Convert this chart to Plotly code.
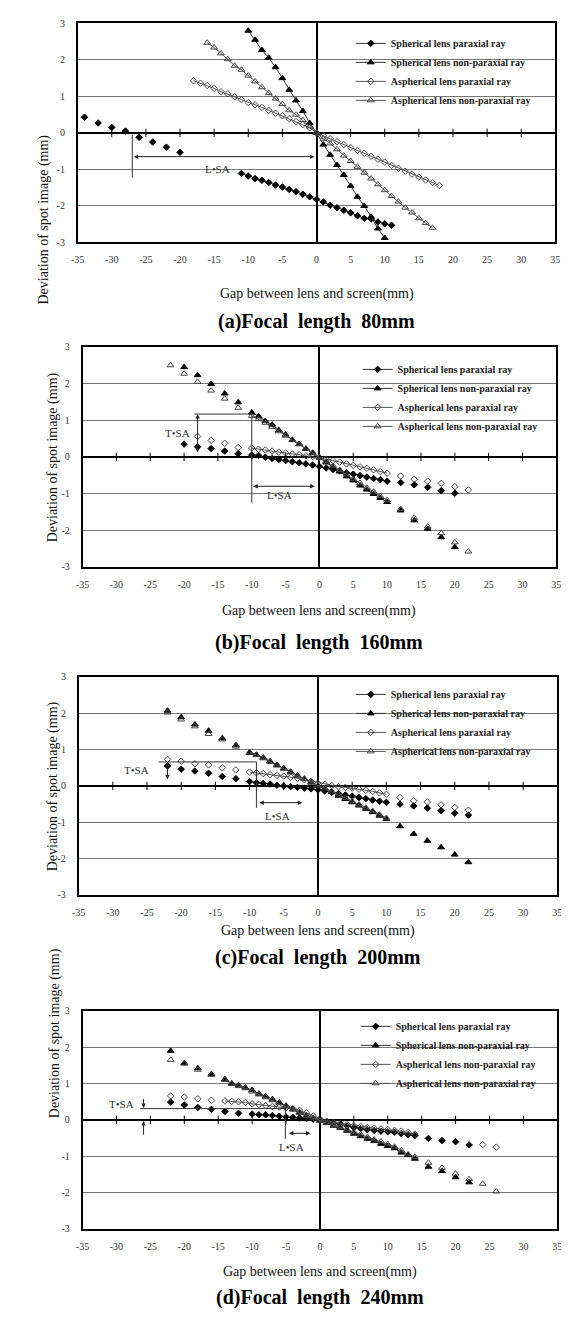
import plotly.graph_objects as go

# ---------------- axis ticks ----------------
x_tick_vals = [-35, -30, -25, -20, -15, -10, -5, 0, 5, 10, 15, 20, 25, 30, 35]
x_tick_text = ["-35", "-30", "-25", "-20", "-15", "-10", "-5", "0", "5", "10", "15", "20", "25", "30", "35"]
y_tick_vals = [-3, -2, -1, 0, 1, 2, 3]
y_tick_text = ["-3", "-2", "-1", "0", "1", "2", "3"]

x_title = "Gap between lens and screen(mm)"
y_title = "Deviation of spot image (mm)"
captions = ["(a)Focal\u00a0 length\u00a0 80mm", "(b)Focal\u00a0 length\u00a0 160mm",
            "(c)Focal\u00a0 length\u00a0 200mm", "(d)Focal\u00a0 length\u00a0 240mm"]

names_abc = ["Spherical lens paraxial ray", "Spherical lens non-paraxial ray",
             "Aspherical lens paraxial ray", "Aspherical lens non-paraxial ray"]
names_d = ["Spherical lens paraxial ray", "Spherical lens non-paraxial ray",
           "Aspherical lens non-paraxial ray", "Aspherical lens non-paraxial ray"]

# ---------------- (a) focal length 80 mm ----------------
a_sp_par_x = list(range(-11, 12))
a_sp_par_y = [-1.11, -1.18, -1.25, -1.30, -1.36, -1.43, -1.48, -1.55, -1.61, -1.68, -1.75, -1.82,
              -1.89, -1.98, -2.05, -2.12, -2.19, -2.27, -2.34, -2.36, -2.44, -2.49, -2.53]
a_sp_par_xs = [-34, -32, -30, -28, -26, -24, -22, -20]
a_sp_par_ys = [0.43, 0.27, 0.15, 0.05, -0.12, -0.25, -0.39, -0.53]
a_sp_npar_x = list(range(-10, 11))
a_sp_npar_y = [2.80, 2.55, 2.27, 2.06, 1.80, 1.50, 1.18, 0.89, 0.60, 0.27, 0.0,
               -0.32, -0.60, -0.88, -1.15, -1.45, -1.75, -2.00, -2.30, -2.62, -2.88]
a_as_par_x = list(range(-18, 19))
a_as_par_y = [1.43, 1.36, 1.30, 1.22, 1.13, 1.07, 0.99, 0.91, 0.83, 0.77, 0.70, 0.62, 0.54, 0.47,
              0.39, 0.31, 0.23, 0.14, 0.0, -0.08, -0.16, -0.24, -0.32, -0.40, -0.48, -0.56, -0.64,
              -0.72, -0.80, -0.89, -0.97, -1.05, -1.13, -1.21, -1.29, -1.36, -1.44]
a_as_npar_x = list(range(-16, 18))
a_as_npar_y = [2.47, 2.34, 2.18, 2.02, 1.84, 1.73, 1.57, 1.41, 1.25, 1.09, 0.94, 0.79, 0.62, 0.50,
               0.35, 0.18, 0.0, -0.16, -0.29, -0.45, -0.62, -0.77, -0.93, -1.09, -1.25, -1.41,
               -1.57, -1.73, -1.88, -2.05, -2.18, -2.34, -2.47, -2.60]

# ---------------- (b) focal length 160 mm ----------------
b_dense_x = list(range(-10, 11))
b_sp_par_y = [0.05, 0.04, -0.01, -0.04, -0.07, -0.10, -0.13, -0.16, -0.19, -0.22, -0.26,
              -0.30, -0.34, -0.38, -0.43, -0.47, -0.51, -0.55, -0.59, -0.62, -0.66]
b_sp_par_xs = [-20, -18, -16, -14, -12, 12, 14, 16, 18, 20]
b_sp_par_ys = [0.35, 0.28, 0.23, 0.16, 0.09, -0.70, -0.76, -0.83, -0.92, -0.99]
b_sp_npar_y = [1.21, 1.11, 0.98, 0.88, 0.73, 0.61, 0.46, 0.35, 0.22, 0.10, -0.02,
               -0.15, -0.28, -0.40, -0.53, -0.64, -0.78, -0.89, -1.01, -1.12, -1.23]
b_sp_npar_xs = [-20, -18, -16, -14, -12, 12, 14, 16, 18, 20]
b_sp_npar_ys = [2.45, 2.23, 1.99, 1.73, 1.49, -1.46, -1.73, -1.96, -2.19, -2.46]
b_as_par_y = [0.24, 0.21, 0.19, 0.16, 0.13, 0.11, 0.08, 0.06, 0.03, 0.01, -0.02,
              -0.06, -0.10, -0.14, -0.19, -0.23, -0.27, -0.31, -0.35, -0.40, -0.44]
b_as_par_xs = [-18, -16, -14, -12, 12, 14, 16, 18, 20, 22]
b_as_par_ys = [0.56, 0.45, 0.37, 0.26, -0.52, -0.61, -0.66, -0.72, -0.81, -0.90]
b_as_npar_y = [1.12, 1.03, 0.93, 0.82, 0.70, 0.58, 0.47, 0.35, 0.23, 0.12, 0.0,
               -0.12, -0.24, -0.36, -0.48, -0.60, -0.71, -0.84, -0.95, -1.07, -1.18]
b_as_npar_xs = [-22, -20, -18, -16, -14, -12, 12, 14, 16, 18, 20, 22]
b_as_npar_ys = [2.50, 2.27, 2.05, 1.81, 1.59, 1.34, -1.42, -1.66, -1.90, -2.08, -2.33, -2.58]

# ---------------- (c) focal length 200 mm ----------------
c_dense_x = list(range(-10, 11))
c_sp_par_y = [0.12, 0.09, 0.07, 0.05, 0.02, 0.0, -0.02, -0.04, -0.06, -0.08, -0.11,
              -0.14, -0.18, -0.21, -0.25, -0.28, -0.32, -0.35, -0.39, -0.42, -0.45]
c_sp_par_xs = [-22, -20, -18, -16, -14, -12, 12, 14, 16, 18, 20, 22]
c_sp_par_ys = [0.55, 0.46, 0.41, 0.35, 0.26, 0.20, -0.50, -0.55, -0.61, -0.68, -0.75, -0.80]
c_sp_npar_y = [0.91, 0.85, 0.78, 0.68, 0.58, 0.49, 0.39, 0.29, 0.20, 0.10, 0.0,
               -0.08, -0.17, -0.27, -0.36, -0.45, -0.54, -0.63, -0.72, -0.82, -0.91]
c_sp_npar_xs = [-22, -20, -18, -16, -14, -12, 12, 14, 16, 18, 20, 22]
c_sp_npar_ys = [2.07, 1.89, 1.69, 1.52, 1.31, 1.12, -1.11, -1.32, -1.51, -1.69, -1.89, -2.10]
c_as_par_y = [0.38, 0.36, 0.34, 0.31, 0.29, 0.27, 0.24, 0.21, 0.17, 0.13, 0.08,
              0.04, 0.01, -0.02, -0.04, -0.06, -0.09, -0.12, -0.15, -0.19, -0.23]
c_as_par_xs = [-22, -20, -18, -16, -14, -12, 12, 14, 16, 18, 20, 22]
c_as_par_ys = [0.73, 0.68, 0.61, 0.58, 0.50, 0.44, -0.32, -0.41, -0.44, -0.52, -0.59, -0.67]
c_as_npar_y = [0.93, 0.86, 0.76, 0.66, 0.56, 0.47, 0.37, 0.28, 0.19, 0.09, 0.01,
               -0.07, -0.15, -0.24, -0.33, -0.42, -0.51, -0.60, -0.69, -0.79, -0.88]
c_as_npar_xs = [-22, -20, -18, -16, -14, -12]
c_as_npar_ys = [2.02, 1.83, 1.64, 1.43, 1.28, 1.08]

# ---------------- (d) focal length 240 mm ----------------
d_sp_par_x = list(range(-10, 15))
d_sp_par_y = [0.16, 0.14, 0.14, 0.12, 0.10, 0.08, 0.07, 0.05, 0.04, 0.02, 0.0, -0.05, -0.09,
              -0.13, -0.17, -0.21, -0.24, -0.27, -0.29, -0.31, -0.33, -0.34, -0.38, -0.41, -0.43]
d_sp_par_xs = [-22, -20, -18, -16, -14, -12, 16, 18, 20, 22]
d_sp_par_ys = [0.49, 0.41, 0.34, 0.29, 0.23, 0.18, -0.51, -0.57, -0.60, -0.69]
d_dense_x = list(range(-14, 15))
d_sp_npar_y = [1.12, 1.00, 0.95, 0.89, 0.82, 0.72, 0.65, 0.57, 0.48, 0.39, 0.30, 0.21, 0.12, 0.05,
               -0.02, -0.09, -0.16, -0.22, -0.30, -0.38, -0.45, -0.52, -0.58, -0.66, -0.72, -0.78,
               -0.90, -0.97, -1.07]
d_sp_npar_xs = [-22, -20, -18, -16, 16, 18, 20, 22]
d_sp_npar_ys = [1.90, 1.56, 1.42, 1.26, -1.29, -1.41, -1.58, -1.72]
d_as_par_y = [0.52, 0.51, 0.50, 0.48, 0.44, 0.42, 0.39, 0.37, 0.35, 0.33, 0.31, 0.26, 0.19, 0.11,
              0.03, -0.04, -0.07, -0.10, -0.13, -0.16, -0.18, -0.21, -0.23, -0.25, -0.27, -0.29,
              -0.31, -0.35, -0.39]
d_as_par_xs = [-22, -20, -18, -16, 24, 26]
d_as_par_ys = [0.66, 0.63, 0.58, 0.54, -0.68, -0.75]
d_as_npar_y = [1.10, 0.99, 0.93, 0.87, 0.78, 0.70, 0.62, 0.54, 0.46, 0.37, 0.28, 0.19, 0.11, 0.04,
               -0.02, -0.08, -0.14, -0.20, -0.27, -0.33, -0.40, -0.47, -0.54, -0.60, -0.67, -0.74,
               -0.84, -0.95, -1.02]
d_as_npar_xs = [-22, -20, -18, -16, 16, 18, 20, 22, 24, 26]
d_as_npar_ys = [1.65, 1.55, 1.38, 1.24, -1.18, -1.32, -1.48, -1.63, -1.76, -1.97]

# ---------------- annotation geometry (data units) ----------------
# arrows: (x_start, y_start, x_end, y_end, double_headed)
arrows = [
    [(-27, -0.65, -0.3, -0.65, True)],
    [(-18, 0.08, -18, 1.17, True), (-10, -0.80, -0.7, -0.80, True)],
    [(-22, 0.14, -22, 0.66, True), (-8.8, -0.46, -2.3, -0.46, True)],
    [(-26, 0.62, -26, 0.33, False), (-26, -0.45, -26, -0.03, False), (-4.8, -0.37, -1.4, -0.37, True)],
]
# plain lines: (x0, y0, x1, y1)
guide_lines = [
    [(-27, -0.05, -27, -1.22)],
    [(-18.5, 1.17, -10, 1.17), (-10, 1.17, -10, -1.25)],
    [(-23.3, 0.66, -9, 0.66), (-9, 0.66, -9, -0.60)],
    [(-26.5, 0.31, -5.1, 0.31), (-5.1, 0.38, -5.1, -0.52)],
]
# labels: (text, x, y)
labels = [
    [("L\u2022SA", -14.5, -1.0)],
    [("T\u2022SA", -21, 0.66), ("L\u2022SA", -5.9, -1.05)],
    [("T\u2022SA", -26.5, 0.44), ("L\u2022SA", -5.9, -0.82)],
    [("T\u2022SA", -29.2, 0.43), ("L\u2022SA", -4.2, -0.75)],
]

# ---------------- layout geometry (pixels) ----------------
W, H = 569, 1322
FONT = "Liberation Serif"
# plot boxes: left, right, top, bottom
boxes = [(64, 552, 9.5, 230.5), (69, 553, 336, 558), (65, 554, 669, 889), (69, 554, 1006, 1226)]
ytitle_x = [19, 29, 29, 31]
xtitle_y = [272, 602, 935, 1280]
caption_y = [297, 634, 966, 1309]
legend_pos = [(343, 15), (350, 344), (343, 672), (348, 1007)]

styles = {
    "sp_par": dict(symbol="diamond", size=5, color="#000000", lc="#333333"),
    "sp_npar": dict(symbol="triangle-up", size=6, color="#000000", lc="#333333"),
    "as_par": dict(symbol="diamond-open", size=5, color="#444444", lc="#555555"),
    "as_npar": dict(symbol="triangle-up-open", size=6, color="#444444", lc="#555555"),
}

panels = [
    [("sp_par", a_sp_par_x, a_sp_par_y, a_sp_par_xs, a_sp_par_ys),
     ("sp_npar", a_sp_npar_x, a_sp_npar_y, [], []),
     ("as_par", a_as_par_x, a_as_par_y, [], []),
     ("as_npar", a_as_npar_x, a_as_npar_y, [], [])],
    [("sp_par", b_dense_x, b_sp_par_y, b_sp_par_xs, b_sp_par_ys),
     ("sp_npar", b_dense_x, b_sp_npar_y, b_sp_npar_xs, b_sp_npar_ys),
     ("as_par", b_dense_x, b_as_par_y, b_as_par_xs, b_as_par_ys),
     ("as_npar", b_dense_x, b_as_npar_y, b_as_npar_xs, b_as_npar_ys)],
    [("sp_par", c_dense_x, c_sp_par_y, c_sp_par_xs, c_sp_par_ys),
     ("sp_npar", c_dense_x, c_sp_npar_y, c_sp_npar_xs, c_sp_npar_ys),
     ("as_par", c_dense_x, c_as_par_y, c_as_par_xs, c_as_par_ys),
     ("as_npar", c_dense_x, c_as_npar_y, c_as_npar_xs, c_as_npar_ys)],
    [("sp_par", d_sp_par_x, d_sp_par_y, d_sp_par_xs, d_sp_par_ys),
     ("sp_npar", d_dense_x, d_sp_npar_y, d_sp_npar_xs, d_sp_npar_ys),
     ("as_par", d_dense_x, d_as_par_y, d_as_par_xs, d_as_par_ys),
     ("as_npar", d_dense_x, d_as_npar_y, d_as_npar_xs, d_as_npar_ys)],
]
panel_names = [names_abc, names_abc, names_abc, names_d]

fig = go.Figure()
annotations = []
shapes = []
layout = {}

minor_ticks = [v for v in x_tick_vals if v not in (0, x_tick_vals[0], x_tick_vals[-1])]

for i, series in enumerate(panels):
    n = i + 1
    xa = "x" if n == 1 else f"x{n}"
    ya = "y" if n == 1 else f"y{n}"
    lg = "legend" if n == 1 else f"legend{n}"
    L, R, T, B = boxes[i]

    # small tick marks on the zero axis
    fig.add_trace(go.Scatter(x=minor_ticks, y=[0] * len(minor_ticks), mode="markers",
                             marker=dict(symbol="line-ns", size=6, line=dict(width=1, color="#000")),
                             xaxis=xa, yaxis=ya, showlegend=False, hoverinfo="skip"))

    for j, (key, dx, dy, sx, sy) in enumerate(series):
        st = styles[key]
        mk = dict(symbol=st["symbol"], size=st["size"], color=st["color"],
                  line=dict(width=1, color=st["color"]))
        fig.add_trace(go.Scatter(x=dx, y=dy, mode="lines+markers", name=panel_names[i][j],
                                 line=dict(width=1, color=st["lc"]), marker=mk,
                                 xaxis=xa, yaxis=ya, legend=lg))
        if sx:
            fig.add_trace(go.Scatter(x=sx, y=sy, mode="markers", marker=mk,
                                     xaxis=xa, yaxis=ya, showlegend=False))

    axis_common = dict(showline=True, mirror=True, linecolor="#000", linewidth=1.5,
                       ticks="outside", tickcolor="rgba(0,0,0,0)",
                       tickfont=dict(family=FONT, size=10, color="#333"))
    layout[f"xaxis{'' if n == 1 else n}"] = dict(
        axis_common, domain=[L / W, R / W], range=[-35, 35], anchor=ya,
        tickvals=x_tick_vals, ticktext=x_tick_text, ticklen=7,
        showgrid=False, zeroline=True, zerolinecolor="#000", zerolinewidth=1.5)
    layout[f"yaxis{'' if n == 1 else n}"] = dict(
        axis_common, domain=[1 - B / H, 1 - T / H], range=[-3, 3], anchor=xa,
        tickvals=y_tick_vals, ticktext=y_tick_text, ticklen=9,
        showgrid=True, gridcolor="#777", gridwidth=1,
        zeroline=True, zerolinecolor="#000", zerolinewidth=2)

    lx, ly = legend_pos[i]
    layout[lg] = dict(x=lx / W, y=1 - ly / H, xanchor="left", yanchor="top",
                      bgcolor="rgba(0,0,0,0)", borderwidth=0, tracegroupgap=0,
                      font=dict(family=FONT, size=10, color="#222", weight="bold"))

    cx = (L + R) / 2 / W
    annotations.append(dict(text=x_title, x=cx, y=1 - xtitle_y[i] / H, xref="paper", yref="paper",
                            showarrow=False, font=dict(family=FONT, size=14, color="#111")))
    annotations.append(dict(text=y_title, x=ytitle_x[i] / W, y=1 - (T + B) / 2 / H,
                            xref="paper", yref="paper", textangle=-90, showarrow=False,
                            font=dict(family=FONT, size=14, color="#111")))
    annotations.append(dict(text=captions[i], x=cx, y=1 - caption_y[i] / H, xref="paper",
                            yref="paper", showarrow=False,
                            font=dict(family=FONT, size=20, color="#000", weight="bold")))

    for (x0, y0, x1, y1, dbl) in arrows[i]:
        annotations.append(dict(x=x1, y=y1, ax=x0, ay=y0, xref=xa, yref=ya, axref=xa, ayref=ya,
                                text="", showarrow=True, arrowhead=2, arrowsize=0.9, arrowwidth=1,
                                arrowcolor="#222", arrowside="end+start" if dbl else "end"))
    for (x0, y0, x1, y1) in guide_lines[i]:
        shapes.append(dict(type="line", xref=xa, yref=ya, x0=x0, y0=y0, x1=x1, y1=y1,
                           line=dict(color="#333", width=1)))
    for (t, tx, ty) in labels[i]:
        annotations.append(dict(text=t, x=tx, y=ty, xref=xa, yref=ya, showarrow=False,
                                font=dict(family=FONT, size=11, color="#333")))

fig.update_layout(width=W, height=H, margin=dict(l=0, r=0, t=0, b=0),
                  paper_bgcolor="white", plot_bgcolor="white",
                  annotations=annotations, shapes=shapes, **layout)

fig.write_html("out.html")
